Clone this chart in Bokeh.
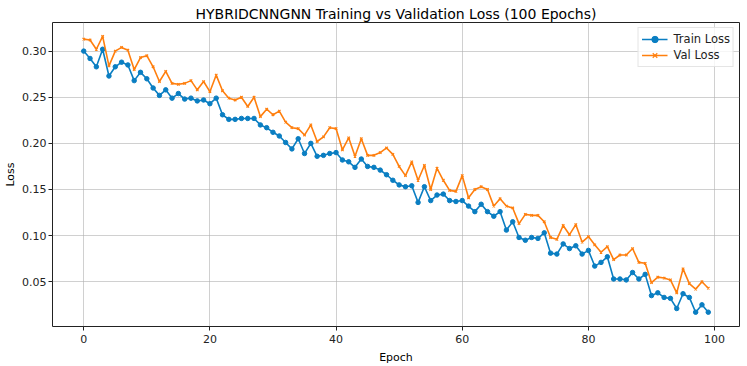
from bokeh.plotting import figure
from bokeh.models import Range1d, Legend, LegendItem, FixedTicker, CustomJSTickFormatter
from bokeh.embed import file_html
from bokeh.resources import INLINE

epochs = list(range(100))
train_loss = [0.300, 0.292, 0.283, 0.302, 0.273, 0.283, 0.288, 0.285, 0.268, 0.277,
              0.270, 0.260, 0.252, 0.258, 0.249, 0.254, 0.248, 0.249, 0.246, 0.247,
              0.243, 0.249, 0.231, 0.226, 0.226, 0.227, 0.227, 0.227, 0.220, 0.217,
              0.212, 0.208, 0.201, 0.194, 0.205, 0.189, 0.200, 0.186, 0.187, 0.189,
              0.190, 0.182, 0.180, 0.174, 0.183, 0.175, 0.174, 0.171, 0.166, 0.160,
              0.155, 0.153, 0.154, 0.136, 0.153, 0.138, 0.144, 0.145, 0.138, 0.137,
              0.138, 0.132, 0.126, 0.134, 0.126, 0.121, 0.126, 0.106, 0.115, 0.098,
              0.095, 0.098, 0.097, 0.103, 0.081, 0.080, 0.091, 0.086, 0.089, 0.080,
              0.084, 0.067, 0.071, 0.077, 0.053, 0.053, 0.052, 0.060, 0.053, 0.058,
              0.035, 0.038, 0.033, 0.032, 0.021, 0.037, 0.033, 0.017, 0.025, 0.017]
val_loss = [0.313, 0.312, 0.302, 0.316, 0.284, 0.300, 0.304, 0.301, 0.280, 0.293,
            0.295, 0.283, 0.267, 0.278, 0.265, 0.264, 0.265, 0.268, 0.258, 0.267,
            0.256, 0.274, 0.257, 0.249, 0.247, 0.250, 0.240, 0.250, 0.229, 0.237,
            0.231, 0.235, 0.223, 0.217, 0.216, 0.209, 0.220, 0.202, 0.207, 0.217,
            0.216, 0.193, 0.206, 0.186, 0.205, 0.187, 0.187, 0.190, 0.195, 0.188,
            0.175, 0.165, 0.180, 0.160, 0.176, 0.150, 0.173, 0.160, 0.149, 0.148,
            0.165, 0.141, 0.150, 0.153, 0.150, 0.132, 0.140, 0.132, 0.130, 0.113,
            0.123, 0.122, 0.122, 0.115, 0.098, 0.096, 0.111, 0.101, 0.112, 0.093,
            0.099, 0.090, 0.082, 0.088, 0.074, 0.079, 0.079, 0.086, 0.071, 0.070,
            0.049, 0.055, 0.054, 0.052, 0.038, 0.064, 0.048, 0.042, 0.050, 0.043]
x_ticks = [0, 20, 40, 60, 80, 100]
y_ticks = [0.05, 0.10, 0.15, 0.20, 0.25, 0.30]

FONT = "DejaVu Sans"
BLUE = "#0a7ec2"
ORANGE = "#ff7f0e"

p = figure(width=747, height=366, output_backend="svg", toolbar_location=None,
           x_range=Range1d(-4.95, 103.95), y_range=Range1d(0.0015, 0.331),
           min_border_left=52, min_border_right=8, min_border_top=22, min_border_bottom=38,
           title="HYBRIDCNNGNN Training vs Validation Loss (100 Epochs)")
p.title.align = "center"
p.title.text_font = FONT
p.title.text_font_size = "14px"
p.title.text_font_style = "normal"
p.title.text_color = "#000000"
p.title.standoff = 2

p.outline_line_color = "#222222"
p.outline_line_width = 1

for ax in (p.xaxis[0], p.yaxis[0]):
    ax.axis_line_color = None
    ax.major_tick_line_color = "#222222"
    ax.major_tick_out = 4
    ax.major_tick_in = 0
    ax.minor_tick_line_color = None
    ax.major_label_text_font = FONT
    ax.major_label_text_font_size = "11px"
    ax.major_label_text_color = "#222222"
    ax.axis_label_text_font = FONT
    ax.axis_label_text_font_size = "11px"
    ax.axis_label_text_font_style = "normal"
    ax.axis_label_text_color = "#000000"

p.xaxis.ticker = FixedTicker(ticks=x_ticks)
p.yaxis.ticker = FixedTicker(ticks=y_ticks)
p.yaxis.formatter = CustomJSTickFormatter(code="return tick.toFixed(2);")
p.xaxis.axis_label = "Epoch"
p.yaxis.axis_label = "Loss"
p.xaxis.major_label_standoff = 4
p.yaxis.major_label_standoff = 2
p.xaxis.axis_label_standoff = 5
p.yaxis.axis_label_standoff = 2

p.grid.grid_line_color = "#b0b0b0"
p.grid.grid_line_alpha = 0.6
p.grid.grid_line_width = 1

l1 = p.line(epochs, train_loss, line_color=BLUE, line_width=1.6)
s1 = p.scatter(epochs, train_loss, marker="circle", size=4.5, fill_color=BLUE, line_color=BLUE)
l2 = p.line(epochs, val_loss, line_color=ORANGE, line_width=1.6)
s2 = p.scatter(epochs, val_loss, marker="x", size=3.5, line_color=ORANGE, line_width=1.2)

legend = Legend(items=[LegendItem(label="Train Loss", renderers=[l1, s1]),
                       LegendItem(label="Val Loss", renderers=[l2, s2])],
                location="top_right")
legend.label_text_font = FONT
legend.label_text_font_size = "11.5px"
legend.label_text_color = "#222222"
legend.border_line_color = "#cccccc"
legend.border_line_width = 1
legend.background_fill_alpha = 0.8
legend.padding = 3
legend.spacing = 0
legend.margin = 5
legend.glyph_width = 26
legend.glyph_height = 16
legend.label_height = 16
legend.label_standoff = 6
p.add_layout(legend)

open("out.html", "w").write(file_html(p, INLINE))
